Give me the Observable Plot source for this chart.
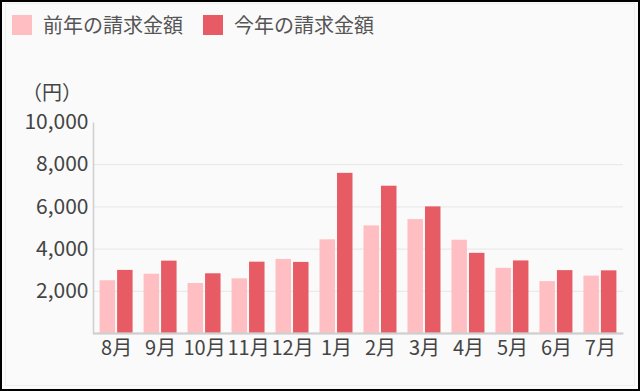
<!DOCTYPE html>
<html>
<head>
<meta charset="utf-8">
<script src="https://cdn.jsdelivr.net/npm/d3@7"></script>
<script src="https://cdn.jsdelivr.net/npm/@observablehq/plot@0.6"></script>
<style>
  html, body { margin: 0; padding: 0; background: #fafafa; }
  body { width: 640px; height: 391px; position: relative; overflow: hidden;
         font-family: "Noto Sans CJK JP", "Noto Sans", sans-serif; color: #555; }
  #frame { position: absolute; left: 0; top: 0; width: 640px; height: 391px;
           box-sizing: border-box; border: 2px solid #000; pointer-events: none; z-index: 5; }
  #inner { position: absolute; left: 5px; top: 3px; width: 630px; height: 383px;
           box-sizing: border-box; border: 1px solid #efefef; pointer-events: none; }
  #legend { position: absolute; left: 0; top: 0; height: 50px; width: 640px; }
  .item { position: absolute; top: 15px; display: flex; align-items: center; font-size: 20px; line-height: 20px; white-space: nowrap; }
  .sw { width: 20px; height: 20px; margin-right: 11px; flex: none; }
  #unit { position: absolute; left: 22px; top: 81px; font-size: 20px; color: #444; line-height: 22px; }
  #chart { position: absolute; left: 0; top: 50px; }
  #chart svg g[aria-label="y-axis tick label"] text { font-size: 21px; }
</style>
</head>
<body>
<div id="legend"></div>
<div id="unit">（円）</div>
<div id="chart"></div>
<div id="inner"></div>
<div id="frame"></div>
<script>
const months = ["8月","9月","10月","11月","12月","1月","2月","3月","4月","5月","6月","7月"];
const seriesNames = ["前年の請求金額", "今年の請求金額"];
const lastYear = [2500, 2810, 2370, 2590, 3510, 4440, 5100, 5400, 4420, 3090, 2460, 2720];
const thisYear = [2990, 3430, 2830, 3380, 3370, 7590, 6980, 6000, 3800, 3440, 2980, 2970];
const yTicks = [2000, 4000, 6000, 8000, 10000];
const gridTicks = [2000, 4000, 6000, 8000];
const colors = ["#ffbfc2", "#e75c64"];

// legend
const legend = document.getElementById("legend");
const legendX = [12, 203];
seriesNames.forEach((name, i) => {
  const d = document.createElement("div");
  d.className = "item";
  d.style.left = legendX[i] + "px";
  d.innerHTML = `<span class="sw" style="background:${colors[i]}"></span><span>${name}</span>`;
  legend.appendChild(d);
});

const prev = months.map((m, i) => ({month: m, value: lastYear[i]}));
const curr = months.map((m, i) => ({month: m, value: thisYear[i]}));

const W = 640, H = 338, ML = 93, MR = 17, MT = 72, MB = 55;
const fw = W - ML - MR, fh = H - MT - MB;

const plot = Plot.plot({
  width: W,
  height: H,
  marginLeft: ML,
  marginRight: MR,
  marginTop: MT,
  marginBottom: MB,
  style: {background: "transparent", fontFamily: "'Noto Sans CJK JP', sans-serif", fontSize: "20px", color: "#444"},
  x: {domain: months, paddingInner: 0.25, paddingOuter: 0.15, round: false, label: null, tickSize: 0, tickPadding: 7},
  y: {domain: [0, 10000], ticks: yTicks, tickFormat: d3.format(","), label: null, tickSize: 0, tickPadding: 5},
  marks: [
    Plot.ruleY(gridTicks, {stroke: "#e6e6e6", strokeWidth: 1}),
    Plot.barY(prev, {x: "month", y: "value", fill: colors[0], insetRight: 17.5}),
    Plot.barY(curr, {x: "month", y: "value", fill: colors[1], insetLeft: 17.5}),
    Plot.frame({stroke: "#cfcfcf", strokeWidth: 1.5, strokeDasharray: `0 ${fw + fh} ${fw + fh}`}),
    Plot.ruleY([0], {stroke: "#cfcfcf", strokeWidth: 2})
  ]
});
// y tick labels slightly larger, as in the reference
plot.querySelectorAll('g[aria-label="y-axis tick label"], g[aria-label="y-axis"]').forEach(g => g.setAttribute("font-size", "21"));
document.getElementById("chart").appendChild(plot);
</script>
</body>
</html>
